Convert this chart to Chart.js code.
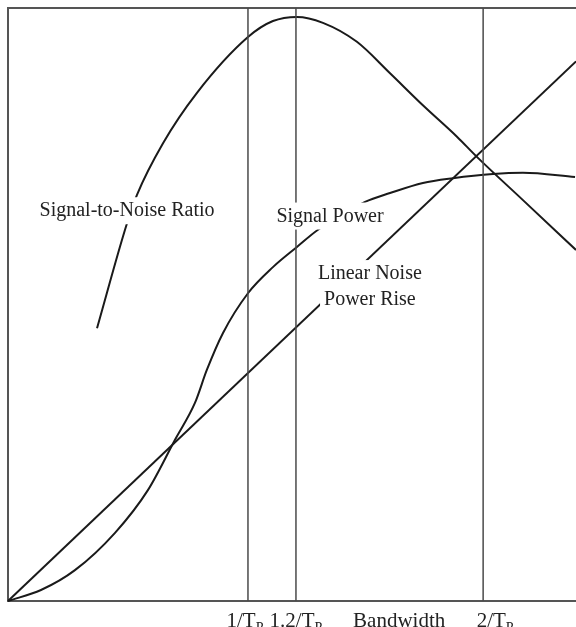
<!DOCTYPE html>
<html>
<head>
<meta charset="utf-8">
<script src="https://cdn.jsdelivr.net/npm/chart.js@4"></script>
<style>
  html, body { margin: 0; padding: 0; background: #fff; }
  #wrap { width: 576px; height: 627px; }
</style>
</head>
<body>
<div id="wrap"><canvas id="chart"></canvas></div>
<script>
// bandwidth in units of 1/T_P, curve heights in % of the frame
const snrX = [0.371, 0.496, 0.5375, 0.646, 0.7875, 1.0, 1.104, 1.204, 1.3125, 1.454, 1.592, 1.729, 1.871, 1.954, 2.146, 2.367];
const snrY = [46.0, 63.7, 68.5, 77.2, 85.7, 95.1, 97.8, 98.5, 97.5, 94.3, 89.0, 83.6, 78.3, 74.9, 67.6, 59.2];

const powerX = [0, 0.1375, 0.279, 0.446, 0.583, 0.696, 0.779, 0.829, 0.896, 1.0, 1.104, 1.204, 1.292, 1.488, 1.592, 1.729, 1.854, 2.021, 2.146, 2.363];
const powerY = [0, 1.85, 5.2, 11.5, 18.7, 27.2, 33.4, 39.0, 45.2, 51.9, 56.3, 59.7, 62.6, 67.3, 68.8, 70.5, 71.3, 72.0, 72.2, 71.5];

const noiseX = [0, 2.367];
const noiseY = [0, 91];

const markerX = [1, 1.2, 1.98];
const markerMain = ["1/T", "1.2/T", "2/T"];
const markerSub = ["P", "P", "P"];
const axisTitle = "Bandwidth";

function pts(xs, ys) {
  return xs.map((x, i) => ({ x: x, y: ys[i] }));
}

const curveStyle = {
  borderColor: "#1a1a1a",
  borderWidth: 2,
  pointRadius: 0,
  fill: false,
  clip: false,
  cubicInterpolationMode: "monotone",
};

const markerSets = markerX.map((x) => ({
  data: [{ x: x, y: 0 }, { x: x, y: 100 }],
  borderColor: "#4a4a4a",
  borderWidth: 1.5,
  pointRadius: 0,
  clip: false,
}));

const frame = {
  id: "frame",
  beforeDatasetsDraw(chart) {
    const { ctx, chartArea: a } = chart;
    ctx.save();
    ctx.strokeStyle = "#555";
    ctx.lineWidth = 2;
    ctx.beginPath();
    ctx.moveTo(a.right + 2, a.top);
    ctx.lineTo(a.left, a.top);
    ctx.lineTo(a.left, a.bottom);
    ctx.lineTo(a.right + 2, a.bottom);
    ctx.stroke();
    ctx.restore();
  },
};

// curve labels sit on white boxes that cut the lines, like the printed figure
const curveLabels = [
  { text: "Signal-to-Noise Ratio", x: 0.496, y: 65.9 },
  { text: "Signal Power", x: 1.342, y: 65.0 },
  { text: "Linear Noise", x: 1.508, y: 55.3 },
  { text: "Power Rise", x: 1.508, y: 51.0 },
];

const labels = {
  id: "labels",
  afterDatasetsDraw(chart) {
    const { ctx, scales } = chart;
    ctx.save();
    ctx.font = "20px 'Liberation Serif', 'Times New Roman', serif";
    ctx.textBaseline = "middle";
    ctx.textAlign = "center";
    curveLabels.forEach((l) => {
      const px = scales.x.getPixelForValue(l.x);
      const py = scales.y.getPixelForValue(l.y);
      const w = ctx.measureText(l.text).width;
      ctx.fillStyle = "#fff";
      ctx.fillRect(px - w / 2 - 4, py - 13, w + 8, 27);
      ctx.fillStyle = "#222";
      ctx.fillText(l.text, px, py + 1);
    });

    // bandwidth axis labels with subscript P
    const big = "21px 'Liberation Serif', 'Times New Roman', serif";
    const small = "14px 'Liberation Serif', 'Times New Roman', serif";
    const base = chart.chartArea.bottom + 26;
    ctx.textBaseline = "alphabetic";
    ctx.textAlign = "left";
    ctx.fillStyle = "#222";
    markerX.forEach((x, i) => {
      ctx.font = big;
      const w1 = ctx.measureText(markerMain[i]).width;
      ctx.font = small;
      const w2 = ctx.measureText(markerSub[i]).width;
      let px = scales.x.getPixelForValue(x) - (w1 + w2) / 2;
      if (i === 0) px -= 3;
      if (i === 2) px += 12;
      ctx.font = big;
      ctx.fillText(markerMain[i], px, base);
      ctx.font = small;
      ctx.fillText(markerSub[i], px + w1, base + 5);
    });
    ctx.font = big;
    ctx.textAlign = "center";
    ctx.fillText(axisTitle, scales.x.getPixelForValue(1.63), base);
    ctx.restore();
  },
};

new Chart(document.getElementById("chart"), {
  type: "line",
  data: {
    datasets: [
      ...markerSets,
      { ...curveStyle, data: pts(noiseX, noiseY), cubicInterpolationMode: "default", tension: 0 },
      { ...curveStyle, data: pts(powerX, powerY) },
      { ...curveStyle, data: pts(snrX, snrY) },
    ],
  },
  options: {
    responsive: true,
    maintainAspectRatio: false,
    animation: false,
    layout: { padding: { left: 8, top: 8, right: 0, bottom: 26 } },
    plugins: {
      legend: { display: false },
      tooltip: { enabled: false },
    },
    scales: {
      x: { type: "linear", min: 0, max: 2.367, display: false },
      y: { min: 0, max: 100, display: false },
    },
  },
  plugins: [frame, labels],
});
</script>
</body>
</html>
